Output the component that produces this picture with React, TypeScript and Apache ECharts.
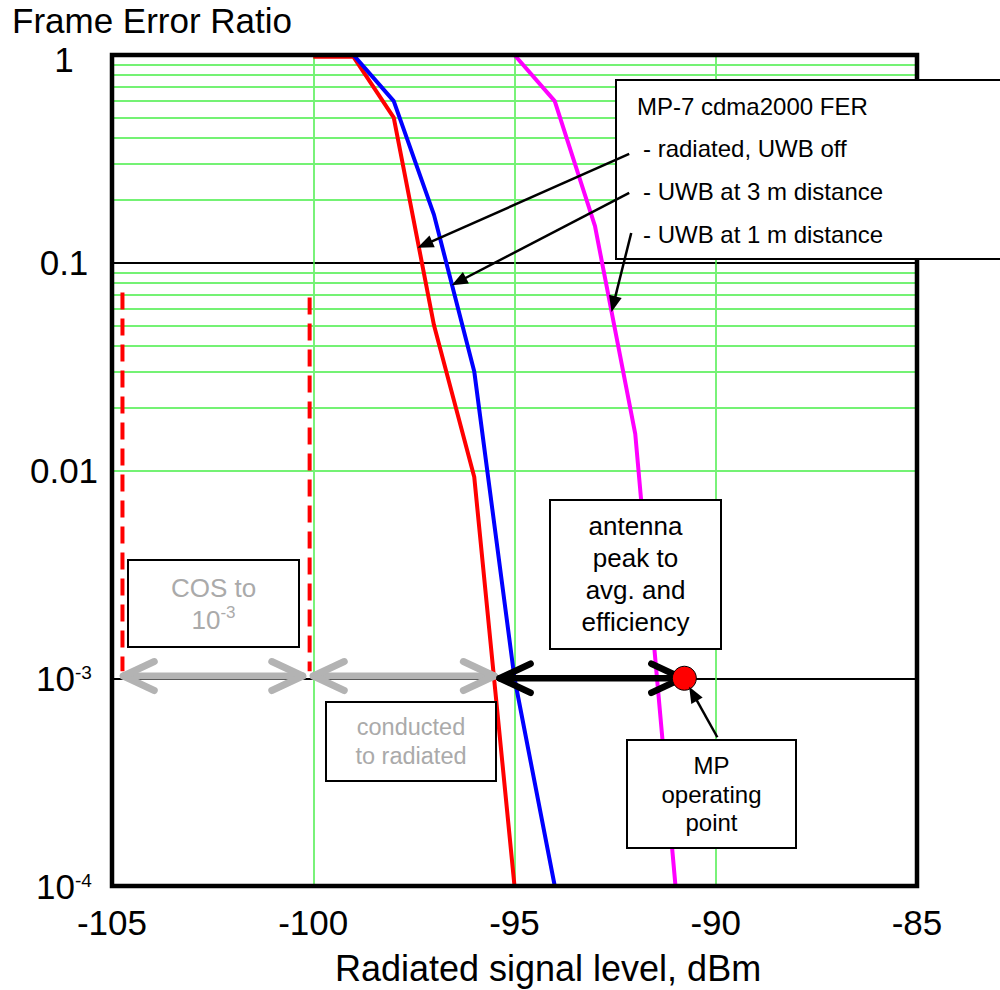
import React, { useEffect, useRef } from 'react';
import * as echarts from 'echarts';

const FONT = '"Liberation Sans", Arial, Helvetica, sans-serif';

// ---- axes ----
const xMin = -105;
const xMax = -85;
const xStep = 5;
const yTickExponents = [-4, -3, -2, -1, 0];
const yTickLabels = ['{b|10}{s|-4}', '{b|10}{s|-3}', '0.01', '0.1', '{one|1}'];
const minorDecades = [-4, -3, -2, -1];
const minorMultipliers = [2, 3, 4, 5, 6, 7, 8, 9];

// ---- measured curves (dBm, FER) ----
const levelsUwbOff = [-100, -99, -98, -97, -96, -95];
const ferUwbOff = [0.98, 0.98, 0.5, 0.05, 0.0093, 0.0001];
const levelsUwb3m = [-99, -98, -97, -96, -95, -94];
const ferUwb3m = [1, 0.6, 0.17, 0.03, 0.001, 0.0001];
const levelsUwb1m = [-95, -94, -93, -92, -91];
const ferUwb1m = [1, 0.6, 0.15, 0.015, 0.0001];

// ---- COS dashed markers ----
const cosMarkerLevels = [-104.74, -100.09];
const cosMarkerFerTop = [0.072, 0.068];
const cosMarkerFerBottom = [0.00108, 0.00108];

// ---- operating point ----
const operatingLevel = -90.78;
const operatingFer = 0.001;

// ---- double-headed span arrows (data coords) ----
const spanFrom = [[-104.72, 0.001025], [-100.0, 0.001025], [-95.37, 0.001]];
const spanTo = [[-100.26, 0.001025], [-95.5, 0.001025], [-90.83, 0.001]];
const spanKinds = ['gray', 'gray', 'black'];

// ---- pointer arrows (data coords) ----
const pointerFrom = [[-92.15, 0.334], [-92.15, 0.217], [-92.1, 0.139], [-89.96, 0.00052]];
const pointerTo = [[-97.41, 0.118], [-96.56, 0.078], [-92.59, 0.058], [-90.66, 0.00091]];

// ---- texts ----
const legendTitle = 'MP-7 cdma2000 FER';
const legendLines = ['- radiated, UWB off', '- UWB at 3 m distance', '- UWB at 1 m distance'];
const yAxisTitle = 'Frame Error Ratio';
const xAxisTitle = 'Radiated signal level, dBm';

const spanStyles: Record<string, { color: string; width: number }> = {
  gray: { color: '#b3b3b3', width: 7 },
  black: { color: '#000000', width: 6.5 },
};

function unit(p1: number[], p2: number[]) {
  const dx = p2[0] - p1[0];
  const dy = p2[1] - p1[1];
  const len = Math.sqrt(dx * dx + dy * dy) || 1;
  return [dx / len, dy / len];
}

function chevron(tip: number[], dir: number[], L: number, W: number) {
  const bx = tip[0] - dir[0] * L;
  const by = tip[1] - dir[1] * L;
  const nx = -dir[1];
  const ny = dir[0];
  return [[bx + nx * W, by + ny * W], [tip[0], tip[1]], [bx - nx * W, by - ny * W]];
}

function renderSpan(params: any, api: any) {
  const p1 = api.coord([api.value(0), api.value(1)]);
  const p2 = api.coord([api.value(2), api.value(3)]);
  const st = spanStyles[spanKinds[params.dataIndex]];
  const d = unit(p1, p2);
  const back = [-d[0], -d[1]];
  const common = { stroke: st.color, lineWidth: st.width, lineCap: 'round', lineJoin: 'round', fill: null };
  return {
    type: 'group',
    children: [
      { type: 'line', shape: { x1: p1[0], y1: p1[1], x2: p2[0], y2: p2[1] }, style: common },
      { type: 'polyline', shape: { points: chevron(p2, d, 31, 14.5) }, style: common },
      { type: 'polyline', shape: { points: chevron(p1, back, 31, 14.5) }, style: common },
    ],
  };
}

function renderPointer(params: any, api: any) {
  const p1 = api.coord([api.value(0), api.value(1)]);
  const p2 = api.coord([api.value(2), api.value(3)]);
  const d = unit(p1, p2);
  const L = 16;
  const W = 6.5;
  const ex = p2[0] - d[0] * L * 0.6;
  const ey = p2[1] - d[1] * L * 0.6;
  const bx = p2[0] - d[0] * L;
  const by = p2[1] - d[1] * L;
  const nx = -d[1];
  const ny = d[0];
  return {
    type: 'group',
    children: [
      { type: 'line', shape: { x1: p1[0], y1: p1[1], x2: ex, y2: ey }, style: { stroke: '#000', lineWidth: 2.5 } },
      {
        type: 'polygon',
        shape: { points: [[p2[0], p2[1]], [bx + nx * W, by + ny * W], [bx - nx * W, by - ny * W]] },
        style: { fill: '#000', stroke: null },
      },
    ],
  };
}

const minorGridValues: number[] = [];
minorDecades.forEach((e) => minorMultipliers.forEach((m) => minorGridValues.push(m * Math.pow(10, e))));

const zip = (xs: number[], ys: number[]) => xs.map((x, i) => [x, ys[i]]);

function boxRect(x: number, y: number, w: number, h: number) {
  return {
    type: 'rect',
    z: 20,
    shape: { x, y, width: w, height: h },
    style: { fill: '#ffffff', stroke: '#000000', lineWidth: 2 },
  };
}

function boxText(text: string, x: number, y: number, fontSize: number, lineHeight: number, color: string, rich?: any, align = 'center') {
  return {
    type: 'text',
    z: 21,
    x,
    y,
    style: {
      text,
      fontSize,
      fontFamily: FONT,
      fill: color,
      align,
      verticalAlign: 'middle',
      lineHeight,
      rich,
    },
  };
}

const option: any = {
  animation: false,
  backgroundColor: '#ffffff',
  textStyle: { fontFamily: FONT },
  grid: { left: 112, top: 55, right: 83, bottom: 104 },
  xAxis: {
    type: 'value',
    min: xMin,
    max: xMax,
    interval: xStep,
    axisLine: { show: false },
    axisTick: { show: false },
    axisLabel: { fontSize: 35, color: '#000', margin: 36, verticalAlign: 'middle', fontFamily: FONT },
    splitLine: { show: true, lineStyle: { color: '#4cee4c', width: 1.5 } },
  },
  yAxis: {
    type: 'log',
    logBase: 10,
    min: 0.0001,
    max: 1,
    axisLine: { show: false },
    axisTick: { show: false },
    axisLabel: {
      fontSize: 35,
      lineHeight: 28,
      color: '#000',
      margin: 48,
      align: 'center',
      fontFamily: FONT,
      formatter: (v: number) => {
        const e = Math.round(Math.log10(v));
        const i = yTickExponents.indexOf(e);
        return i >= 0 ? yTickLabels[i] : '';
      },
      rich: {
        b: { fontSize: 35, lineHeight: 30, color: '#000', fontFamily: FONT },
        s: { fontSize: 19, lineHeight: 21, verticalAlign: 'top', color: '#000', fontFamily: FONT },
        one: { fontSize: 35, lineHeight: 30, padding: [9, 0, 0, 0], color: '#000', fontFamily: FONT },
      },
    },
    splitLine: { show: true, lineStyle: { color: '#000', width: 2 } },
  },
  series: [
    {
      name: 'minorGrid',
      type: 'line',
      data: [],
      silent: true,
      symbol: 'none',
      z: 1,
      markLine: {
        silent: true,
        symbol: 'none',
        z: 1,
        animation: false,
        label: { show: false },
        lineStyle: { color: '#74f274', width: 2, type: 'solid' },
        data: minorGridValues.map((v) => ({ yAxis: v })),
      },
    },
    {
      name: 'radiated, UWB off',
      type: 'line',
      data: zip(levelsUwbOff, ferUwbOff),
      symbol: 'none',
      z: 2,
      lineStyle: { color: '#ff0000', width: 4 },
    },
    {
      name: 'UWB at 3 m distance',
      type: 'line',
      data: zip(levelsUwb3m, ferUwb3m),
      symbol: 'none',
      z: 2,
      lineStyle: { color: '#0000ff', width: 4 },
    },
    {
      name: 'UWB at 1 m distance',
      type: 'line',
      data: zip(levelsUwb1m, ferUwb1m),
      symbol: 'none',
      z: 2,
      lineStyle: { color: '#ff00ff', width: 4 },
    },
    ...cosMarkerLevels.map((lvl, i) => ({
      name: 'cosMarker' + i,
      type: 'line',
      data: [[lvl, cosMarkerFerTop[i]], [lvl, cosMarkerFerBottom[i]]],
      symbol: 'none',
      z: 2,
      lineStyle: { color: '#ff0000', width: 4, type: [17, 9] },
    })),
    {
      name: 'spans',
      type: 'custom',
      z: 3,
      clip: false,
      silent: true,
      renderItem: renderSpan,
      encode: { x: [0, 2], y: [1, 3] },
      data: spanFrom.map((f, i) => [f[0], f[1], spanTo[i][0], spanTo[i][1]]),
    },
    {
      name: 'operating point',
      type: 'scatter',
      z: 4,
      symbol: 'circle',
      symbolSize: 24,
      itemStyle: { color: '#ff0000', borderColor: '#000', borderWidth: 1, opacity: 1 },
      data: [[operatingLevel, operatingFer]],
    },
    {
      name: 'pointers',
      type: 'custom',
      z: 30,
      clip: false,
      silent: true,
      renderItem: renderPointer,
      encode: { x: [0, 2], y: [1, 3] },
      data: pointerFrom.map((f, i) => [f[0], f[1], pointerTo[i][0], pointerTo[i][1]]),
    },
  ],
  graphic: [
    {
      type: 'rect',
      z: 10,
      shape: { x: 112, y: 55, width: 805, height: 831 },
      style: { fill: null, stroke: '#000000', lineWidth: 4.5 },
    },
    // axis titles
    {
      type: 'text',
      z: 21,
      x: 12,
      y: 20,
      style: { text: yAxisTitle, fontSize: 35, lineHeight: 32, fontFamily: FONT, fill: '#000', align: 'left', verticalAlign: 'middle' },
    },
    {
      type: 'text',
      z: 21,
      x: 548,
      y: 968,
      style: { text: xAxisTitle, fontSize: 36, fontFamily: FONT, fill: '#000', align: 'center', verticalAlign: 'middle' },
    },
    // legend box
    boxRect(616, 80, 450, 179),
    boxText(legendTitle, 637, 106, 24, 28, '#000', undefined, 'left'),
    boxText(legendLines[0], 643, 148.5, 24, 28, '#000', undefined, 'left'),
    boxText(legendLines[1], 643, 191.5, 24, 28, '#000', undefined, 'left'),
    boxText(legendLines[2], 643, 234, 24, 28, '#000', undefined, 'left'),
    // antenna box
    boxRect(550, 500, 171, 149),
    boxText('antenna\npeak to\navg. and\nefficiency', 635.5, 574, 26, 31.7, '#000'),
    // COS box
    boxRect(128, 560, 171, 87),
    boxText('{n|COS to}\n{n|10}{p|-3}', 213.5, 604, 26, 32, '#aaaaaa', {
      n: { fontSize: 26, lineHeight: 32, fill: '#aaaaaa', color: '#aaaaaa', fontFamily: FONT },
      p: { fontSize: 17, lineHeight: 16, verticalAlign: 'top', fill: '#aaaaaa', color: '#aaaaaa', fontFamily: FONT },
    }),
    // conducted box
    boxRect(326, 702, 170, 79),
    boxText('conducted\nto radiated', 411, 741.5, 23.5, 29, '#aaaaaa'),
    // MP box
    boxRect(627, 740, 169, 108),
    boxText('MP\noperating\npoint', 711.5, 794, 24, 28.7, '#000'),
  ],
};

export default function App() {
  const ref = useRef<HTMLDivElement>(null);
  useEffect(() => {
    const chart = echarts.init(ref.current as HTMLDivElement, null, { renderer: 'svg' });
    chart.setOption(option);
    return () => chart.dispose();
  }, []);
  return <div ref={ref} style={{ position: 'absolute', left: 0, top: 0, width: 1000, height: 990 }} />;
}
